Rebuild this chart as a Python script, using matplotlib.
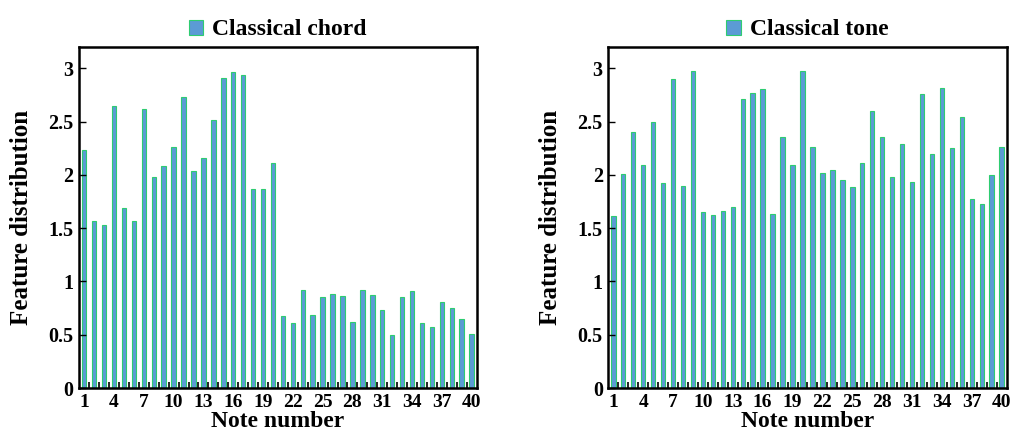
import matplotlib
matplotlib.use("Agg")
import matplotlib.pyplot as plt
import numpy as np
from matplotlib.ticker import FixedLocator, MultipleLocator

plt.rcParams['font.family'] = ['Liberation Serif', 'DejaVu Serif']
plt.rcParams['font.weight'] = 'bold'

notes = list(range(1, 41))
tick_labels = [1, 4, 7, 10, 13, 16, 19, 22, 25, 28, 31, 34, 37, 40]

chord_values = [2.23, 1.57, 1.53, 2.65, 1.69, 1.57, 2.62, 1.98, 2.08, 2.26,
                2.73, 2.04, 2.16, 2.52, 2.91, 2.97, 2.94, 1.87, 1.87, 2.11,
                0.68, 0.61, 0.92, 0.69, 0.85, 0.88, 0.86, 0.62, 0.92, 0.87,
                0.73, 0.50, 0.85, 0.91, 0.61, 0.57, 0.81, 0.75, 0.65, 0.51]

tone_values = [1.61, 2.01, 2.40, 2.09, 2.50, 1.92, 2.90, 1.90, 2.98, 1.65,
               1.62, 1.66, 1.70, 2.71, 2.77, 2.81, 1.63, 2.36, 2.09, 2.98,
               2.26, 2.02, 2.05, 1.95, 1.89, 2.11, 2.60, 2.36, 1.98, 2.29,
               1.93, 2.76, 2.20, 2.82, 2.25, 2.54, 1.77, 1.73, 2.00, 2.26]

series_names = ["Classical chord", "Classical tone"]
series_values = [chord_values, tone_values]

fill_color = "#5b9bd5"
edge_color = "#2ecc71"

fig = plt.figure(figsize=(10.11, 4.36), dpi=100)
positions = [[0.0784, 0.110, 0.393, 0.782], [0.6017, 0.110, 0.394, 0.782]]

for pos, name, vals in zip(positions, series_names, series_values):
    ax = fig.add_axes(pos)
    ax.bar(notes, vals, width=0.45, color=fill_color, edgecolor=edge_color,
           linewidth=0.8, label=name)
    ax.set_xlim(0.5, 40.5)
    ax.set_ylim(0, 3.2)
    ax.yaxis.set_major_locator(MultipleLocator(0.5))
    ax.set_yticklabels([f"{v:g}" for v in ax.get_yticks()])
    ax.xaxis.set_major_locator(FixedLocator(tick_labels))
    ax.set_xticklabels([str(t) for t in tick_labels])
    ax.xaxis.set_minor_locator(FixedLocator([n + 0.5 for n in notes[:-1]]))
    ax.tick_params(axis='x', which='major', length=0, pad=4, labelsize=14)
    ax.tick_params(axis='x', which='minor', direction='in', length=4, width=1.2)
    ax.tick_params(axis='y', which='major', direction='in', length=5, width=1,
                   labelsize=14.5, pad=4)
    for s in ax.spines.values():
        s.set_linewidth(1.8)
    ax.set_ylabel("Feature distribution", fontsize=18, fontweight='bold', labelpad=11)
    ax.set_xlabel("Note number", fontsize=17, fontweight='bold', labelpad=0)
    leg = ax.legend(loc='lower center', bbox_to_anchor=(0.5, 0.985), frameon=False,
                    fontsize=17, handlelength=0.6, handleheight=0.6,
                    handletextpad=0.4, borderaxespad=0.1)

fig.savefig("out.png", dpi=100)
